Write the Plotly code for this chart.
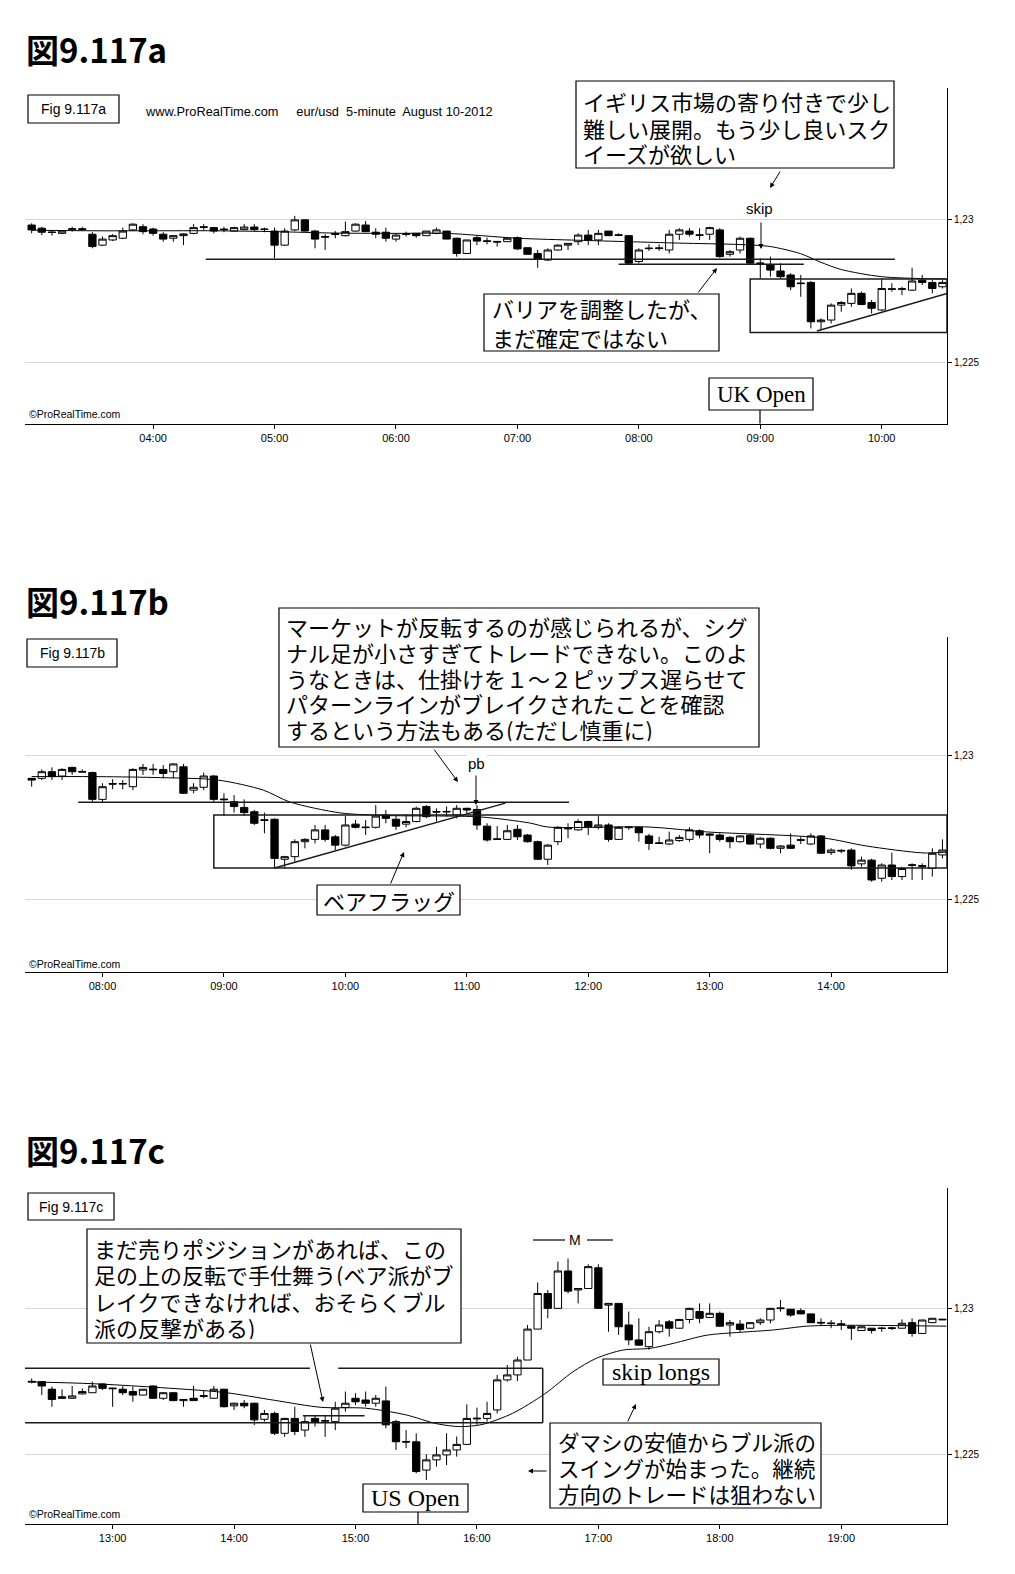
import plotly.graph_objects as go

W, H = 1015, 1574
def px(x): return x / W
def py(y): return 1 - y / H

# ---------------- data: panel a (eur/usd 5-minute, 03:00 - 10:30) ----------------
hours_a = ["04:00", "05:00", "06:00", "07:00", "08:00", "09:00", "10:00"]
hour_bar_a = [12, 24, 36, 48, 60, 72, 84]
open_a = [1.22980,1.22969,1.22956,1.22951,1.22965,1.22967,1.22948,1.22910,1.22928,1.22934,
1.22963,1.22974,1.22966,1.22948,1.22934,1.22943,1.22951,1.22974,1.22971,1.22966,
1.22959,1.22964,1.22973,1.22966,1.22959,1.22910,1.22963,1.22998,1.22959,1.22940,
1.22950,1.22943,1.22959,1.22980,1.22955,1.22955,1.22931,1.22947,1.22951,1.22943,
1.22951,1.22959,1.22934,1.22881,1.22936,1.22925,1.22923,1.22922,1.22936,1.22901,
1.22881,1.22858,1.22893,1.22910,1.22922,1.22945,1.22928,1.22959,1.22946,1.22943,
1.22853,1.22900,1.22898,1.22893,1.22948,1.22959,1.22946,1.22948,1.22963,1.22878,
1.22893,1.22934,1.22848,1.22841,1.22820,1.22806,1.22778,1.22780,1.22643,1.22649,
1.22701,1.22707,1.22742,1.22710,1.22684,1.22758,1.22756,1.22753,1.22788,1.22780,
1.22765]
high_a = [1.22986,1.22974,1.22963,1.22961,1.22974,1.22974,1.22955,1.22940,1.22948,1.22971,
1.22986,1.22983,1.22971,1.22955,1.22945,1.22951,1.22983,1.22983,1.22974,1.22974,
1.22974,1.22983,1.22983,1.22971,1.22971,1.22969,1.23012,1.23000,1.22963,1.22948,
1.22959,1.22992,1.22986,1.22994,1.22969,1.22971,1.22951,1.22957,1.22951,1.22959,
1.22971,1.22959,1.22936,1.22928,1.22943,1.22936,1.22924,1.22934,1.22940,1.22901,
1.22893,1.22899,1.22913,1.22916,1.22951,1.22963,1.22963,1.22959,1.22951,1.22945,
1.22899,1.22913,1.22913,1.22963,1.22969,1.22969,1.22969,1.22974,1.22969,1.22893,
1.22940,1.22936,1.22864,1.22870,1.22847,1.22812,1.22806,1.22785,1.22655,1.22707,
1.22715,1.22759,1.22748,1.22719,1.22794,1.22777,1.22765,1.22831,1.22806,1.22788,
1.22788]
low_a = [1.22951,1.22945,1.22943,1.22949,1.22957,1.22959,1.22899,1.22907,1.22924,1.22931,
1.22959,1.22948,1.22943,1.22922,1.22922,1.22910,1.22948,1.22963,1.22951,1.22955,
1.22957,1.22962,1.22959,1.22955,1.22864,1.22907,1.22959,1.22957,1.22899,1.22893,
1.22934,1.22940,1.22957,1.22955,1.22934,1.22922,1.22922,1.22940,1.22936,1.22943,
1.22948,1.22931,1.22870,1.22881,1.22910,1.22913,1.22905,1.22922,1.22893,1.22878,
1.22831,1.22855,1.22891,1.22893,1.22910,1.22910,1.22910,1.22943,1.22943,1.22841,
1.22847,1.22890,1.22890,1.22881,1.22928,1.22940,1.22928,1.22928,1.22866,1.22870,
1.22881,1.22841,1.22794,1.22800,1.22794,1.22753,1.22730,1.22620,1.22614,1.22637,
1.22678,1.22695,1.22701,1.22672,1.22680,1.22748,1.22736,1.22750,1.22771,1.22742,
1.22759]
close_a = [1.22963,1.22955,1.22954,1.22959,1.22967,1.22965,1.22905,1.22931,1.22943,1.22959,
1.22983,1.22957,1.22951,1.22931,1.22943,1.22949,1.22971,1.22972,1.22959,1.22964,
1.22971,1.22973,1.22964,1.22965,1.22910,1.22959,1.22998,1.22959,1.22931,1.22938,
1.22948,1.22957,1.22983,1.22957,1.22948,1.22934,1.22945,1.22949,1.22943,1.22959,
1.22963,1.22931,1.22881,1.22928,1.22924,1.22923,1.22921,1.22934,1.22897,1.22878,
1.22862,1.22893,1.22910,1.22916,1.22945,1.22928,1.22951,1.22943,1.22944,1.22847,
1.22893,1.22898,1.22900,1.22948,1.22963,1.22948,1.22944,1.22971,1.22870,1.22887,
1.22934,1.22847,1.22846,1.22823,1.22800,1.22765,1.22776,1.22643,1.22649,1.22701,
1.22710,1.22742,1.22703,1.22690,1.22759,1.22756,1.22758,1.22785,1.22780,1.22759,
1.22780]
ma_bar_a = [0, 6, 12, 18, 24, 30, 36, 41, 48, 54, 59, 64, 70, 73, 76, 78, 80, 84, 90.4]
ma_a = [1.22962, 1.22960, 1.22960, 1.22960, 1.22957, 1.22952, 1.22951, 1.22951, 1.22934, 1.22927,
        1.22922, 1.22917, 1.22912, 1.22905, 1.22880, 1.22850, 1.22825, 1.22800, 1.22792]

# ---------------- data: panel b (07:25 - 14:55) ----------------
hours_b = ["08:00", "09:00", "10:00", "11:00", "12:00", "13:00", "14:00"]
hour_bar_b = [7, 19, 31, 43, 55, 67, 79]
open_b = [1.22919,1.22919,1.22942,1.22927,1.22957,1.22943,1.22939,1.22846,1.22901,1.22899,
1.22890,1.22948,1.22951,1.22950,1.22942,1.22959,1.22878,1.22888,1.22927,1.22847,
1.22838,1.22818,1.22803,1.22775,1.22777,1.22638,1.22647,1.22699,1.22707,1.22740,
1.22716,1.22687,1.22760,1.22750,1.22749,1.22792,1.22777,1.22760,1.22769,1.22821,
1.22804,1.22802,1.22792,1.22815,1.22811,1.22753,1.22709,1.22707,1.22742,1.22722,
1.22699,1.22638,1.22699,1.22746,1.22740,1.22769,1.22749,1.22757,1.22707,1.22750,
1.22749,1.22719,1.22695,1.22691,1.22703,1.22707,1.22737,1.22726,1.22722,1.22714,
1.22699,1.22722,1.22691,1.22711,1.22676,1.22687,1.22706,1.22691,1.22719,1.22661,
1.22669,1.22670,1.22622,1.22635,1.22572,1.22618,1.22578,1.22619,1.22616,1.22606,
1.22653]
high_b = [1.22919,1.22950,1.22957,1.22954,1.22959,1.22950,1.22942,1.22902,1.22916,1.22913,
1.22954,1.22969,1.22969,1.22965,1.22971,1.22969,1.22902,1.22939,1.22931,1.22867,
1.22861,1.22846,1.22809,1.22800,1.22780,1.22650,1.22707,1.22711,1.22757,1.22757,
1.22722,1.22788,1.22774,1.22774,1.22826,1.22809,1.22792,1.22795,1.22821,1.22826,
1.22815,1.22821,1.22826,1.22817,1.22826,1.22763,1.22753,1.22757,1.22757,1.22726,
1.22703,1.22691,1.22753,1.22763,1.22777,1.22772,1.22788,1.22763,1.22753,1.22753,
1.22753,1.22726,1.22716,1.22734,1.22722,1.22749,1.22742,1.22728,1.22728,1.22719,
1.22722,1.22726,1.22714,1.22714,1.22687,1.22728,1.22716,1.22728,1.22722,1.22676,
1.22673,1.22676,1.22647,1.22640,1.22624,1.22661,1.22612,1.22624,1.22624,1.22676,
1.22707]
low_b = [1.22890,1.22913,1.22913,1.22913,1.22931,1.22939,1.22838,1.22838,1.22881,1.22881,
1.22878,1.22931,1.22931,1.22919,1.22919,1.22865,1.22867,1.22878,1.22838,1.22788,
1.22800,1.22788,1.22757,1.22728,1.22606,1.22606,1.22630,1.22676,1.22693,1.22699,
1.22670,1.22682,1.22745,1.22722,1.22745,1.22763,1.22740,1.22749,1.22766,1.22780,
1.22769,1.22786,1.22780,1.22797,1.22740,1.22699,1.22705,1.22705,1.22705,1.22696,
1.22635,1.22618,1.22687,1.22711,1.22737,1.22722,1.22742,1.22699,1.22705,1.22740,
1.22699,1.22670,1.22691,1.22687,1.22699,1.22699,1.22711,1.22659,1.22699,1.22676,
1.22696,1.22689,1.22676,1.22672,1.22659,1.22674,1.22691,1.22687,1.22656,1.22653,
1.22659,1.22601,1.22612,1.22560,1.22560,1.22566,1.22566,1.22566,1.22566,1.22578,
1.22641]
close_b = [1.22913,1.22942,1.22925,1.22950,1.22942,1.22941,1.22846,1.22890,1.22899,1.22901,
1.22950,1.22957,1.22949,1.22936,1.22969,1.22867,1.22888,1.22927,1.22846,1.22845,
1.22821,1.22800,1.22763,1.22773,1.22641,1.22647,1.22699,1.22707,1.22740,1.22707,
1.22687,1.22757,1.22749,1.22748,1.22788,1.22780,1.22753,1.22769,1.22815,1.22786,
1.22802,1.22804,1.22815,1.22809,1.22757,1.22705,1.22707,1.22737,1.22716,1.22699,
1.22638,1.22687,1.22749,1.22744,1.22769,1.22751,1.22757,1.22707,1.22749,1.22748,
1.22730,1.22693,1.22693,1.22705,1.22714,1.22740,1.22722,1.22722,1.22707,1.22699,
1.22719,1.22691,1.22711,1.22676,1.22684,1.22676,1.22704,1.22719,1.22659,1.22670,
1.22667,1.22615,1.22635,1.22566,1.22618,1.22578,1.22606,1.22617,1.22614,1.22659,
1.22670]
ma_bar_b = [0, 6, 12, 18.4, 22.9, 25.5, 30.5, 35, 44.3, 49.2, 51, 61, 66.7, 78.2, 82.5, 88.1, 90.4]
ma_b = [1.22925, 1.22925, 1.22922, 1.22913, 1.22878, 1.22837, 1.22799, 1.22790, 1.22785, 1.22764,
        1.22750, 1.22750, 1.22733, 1.22712, 1.22684, 1.22660, 1.22663]

# ---------------- data: panel c (12:20 - 19:50) ----------------
hours_c = ["13:00", "14:00", "15:00", "16:00", "17:00", "18:00", "19:00"]
hour_bar_c = [8, 20, 32, 44, 56, 68, 80]
open_c = [1.22750,1.22749,1.22723,1.22697,1.22692,1.22707,1.22711,1.22741,1.22727,1.22723,
1.22715,1.22703,1.22734,1.22692,1.22711,1.22684,1.22692,1.22701,1.22692,1.22723,
1.22666,1.22675,1.22675,1.22620,1.22640,1.22572,1.22623,1.22583,1.22623,1.22616,
1.22612,1.22660,1.22692,1.22686,1.22675,1.22683,1.22612,1.22544,1.22543,1.22446,
1.22481,1.22498,1.22515,1.22534,1.22624,1.22623,1.22652,1.22755,1.22772,1.22823,
1.22929,1.23051,1.23000,1.23128,1.23063,1.23068,1.23139,1.23011,1.23017,1.22943,
1.22892,1.22869,1.22920,1.22954,1.22932,1.22962,1.22989,1.22969,1.22983,1.22943,
1.22946,1.22932,1.22951,1.22960,1.22999,1.22997,1.22992,1.22981,1.22952,1.22950,
1.22947,1.22939,1.22924,1.22932,1.22933,1.22931,1.22932,1.22951,1.22914,1.22951,
1.22963]
high_c = [1.22760,1.22750,1.22732,1.22723,1.22734,1.22726,1.22749,1.22743,1.22728,1.22734,
1.22732,1.22724,1.22736,1.22713,1.22713,1.22689,1.22734,1.22720,1.22734,1.22725,
1.22677,1.22686,1.22677,1.22652,1.22646,1.22625,1.22663,1.22635,1.22635,1.22635,
1.22680,1.22715,1.22709,1.22715,1.22703,1.22732,1.22618,1.22583,1.22572,1.22500,
1.22526,1.22572,1.22561,1.22671,1.22660,1.22680,1.22772,1.22806,1.22834,1.22943,
1.23089,1.23063,1.23160,1.23171,1.23069,1.23151,1.23151,1.23018,1.23018,1.22989,
1.22966,1.22937,1.22960,1.22960,1.22964,1.23002,1.23017,1.23017,1.22989,1.22960,
1.22960,1.22953,1.22966,1.23002,1.23029,1.22998,1.23000,1.22982,1.22966,1.22960,
1.22960,1.22940,1.22938,1.22933,1.22937,1.22937,1.22962,1.22966,1.22961,1.22967,
1.22964]
low_c = [1.22743,1.22703,1.22663,1.22692,1.22691,1.22705,1.22710,1.22720,1.22663,1.22703,
1.22680,1.22702,1.22690,1.22686,1.22682,1.22663,1.22683,1.22692,1.22690,1.22661,
1.22652,1.22658,1.22600,1.22612,1.22566,1.22560,1.22566,1.22560,1.22595,1.22560,
1.22583,1.22646,1.22669,1.22663,1.22663,1.22589,1.22515,1.22521,1.22435,1.22412,
1.22458,1.22463,1.22492,1.22532,1.22601,1.22612,1.22640,1.22749,1.22751,1.22823,
1.22929,1.22966,1.22998,1.23051,1.23017,1.23067,1.22998,1.22920,1.22909,1.22874,
1.22872,1.22858,1.22914,1.22903,1.22930,1.22949,1.22949,1.22968,1.22937,1.22903,
1.22920,1.22930,1.22943,1.22949,1.22989,1.22971,1.22980,1.22950,1.22943,1.22932,
1.22926,1.22892,1.22923,1.22914,1.22920,1.22926,1.22931,1.22903,1.22913,1.22950,
1.22960]
close_c = [1.22748,1.22734,1.22688,1.22692,1.22700,1.22715,1.22734,1.22726,1.22725,1.22711,
1.22703,1.22723,1.22692,1.22711,1.22684,1.22688,1.22684,1.22699,1.22723,1.22663,
1.22675,1.22666,1.22618,1.22640,1.22572,1.22623,1.22578,1.22612,1.22612,1.22614,
1.22658,1.22675,1.22680,1.22675,1.22692,1.22601,1.22543,1.22542,1.22441,1.22481,
1.22498,1.22515,1.22534,1.22623,1.22622,1.22640,1.22755,1.22772,1.22823,1.22929,
1.23051,1.23000,1.23128,1.23059,1.23068,1.23143,1.23000,1.23017,1.22937,1.22892,
1.22874,1.22920,1.22943,1.22932,1.22962,1.23000,1.22966,1.22983,1.22939,1.22951,
1.22928,1.22951,1.22960,1.23000,1.23001,1.22977,1.22981,1.22951,1.22950,1.22948,
1.22945,1.22932,1.22937,1.22924,1.22931,1.22933,1.22949,1.22914,1.22960,1.22966,
1.22961]
ma_bar_c = [0, 6, 12, 19, 24, 28.6, 33, 37, 40, 42.3, 44.5, 47.5, 50.7, 53.5, 55.8, 58.4, 61.1,
            63.4, 66.7, 70, 73.3, 76.6, 80, 90.4]
ma_c = [1.22748, 1.22742, 1.22730, 1.22712, 1.22685, 1.22661, 1.22658, 1.22635, 1.22605, 1.22595,
        1.22602, 1.22640, 1.22707, 1.22783, 1.22829, 1.22857, 1.22863, 1.22880, 1.22908, 1.22918,
        1.22926, 1.22939, 1.22942, 1.22939]

# drawn levels: (bar_from, bar_to, price_from, price_to)
lines_a = [(17.2, 85.3, 1.22861, 1.22861), (58, 76.3, 1.22843, 1.22843),
           (77.6, 90.45, 1.22611, 1.22742)]
rect_a = (71.0, 90.45, 1.22606, 1.22792)
lines_b = [(4.6, 53.1, 1.22836, 1.22836), (24.0, 46.8, 1.22608, 1.22833)]
rect_b = (18.0, 90.45, 1.22608, 1.22792)
lines_c = [(-0.66, 27.5, 1.22795, 1.22795), (30.3, 50.5, 1.22795, 1.22795),
           (50.5, 50.5, 1.22795, 1.22608), (-0.66, 50.5, 1.22608, 1.22608),
           (26.8, 32.9, 1.22632, 1.22632)]

# ---------------- figure ----------------
NARROW = "Liberation Sans Narrow, Arial Narrow, Liberation Sans, sans-serif"
SANS = "Liberation Sans, Arial, sans-serif"
SERIF = "Liberation Serif, Times New Roman, serif"
JP = "Noto Sans CJK JP"

X_RANGE = [-0.66, 90.45]
X_DOMAIN = [px(25), px(947)]

panels = [
    dict(o=open_a, h=high_a, l=low_a, c=close_a, mx=ma_bar_a, my=ma_a, top=88.3, bottom=423.6,
         yr=[1.222882, 1.234564], tv=hour_bar_a, tt=hours_a, lines=lines_a, rect=rect_a),
    dict(o=open_b, h=high_b, l=low_b, c=close_b, mx=ma_bar_b, my=ma_b, top=636.5, bottom=971.7,
         yr=[1.222476, 1.234115], tv=hour_bar_b, tt=hours_b, lines=lines_b, rect=rect_b),
    dict(o=open_c, h=high_c, l=low_c, c=close_c, mx=ma_bar_c, my=ma_c, top=1187.5, bottom=1523.8,
         yr=[1.22262, 1.23414], tv=hour_bar_c, tt=hours_c, lines=lines_c, rect=None),
]

fig = go.Figure()
shapes = []
LINE_COL = "#1a1a1a"
for k, p in enumerate(panels):
    n = "" if k == 0 else str(k + 1)
    xa, ya = "x" + n, "y" + n
    fig.add_trace(go.Candlestick(
        x=list(range(len(p["o"]))), open=p["o"], high=p["h"], low=p["l"], close=p["c"],
        xaxis=xa, yaxis=ya,
        increasing=dict(line=dict(color="black", width=1), fillcolor="white"),
        decreasing=dict(line=dict(color="black", width=1), fillcolor="black"),
        whiskerwidth=0, hoverinfo="skip", showlegend=False))
    fig.add_trace(go.Scatter(
        x=p["mx"], y=p["my"], mode="lines", xaxis=xa, yaxis=ya,
        line=dict(color="black", width=1, shape="spline", smoothing=0.8),
        hoverinfo="skip", showlegend=False))
    fig.update_layout(**{
        "xaxis" + n: dict(domain=X_DOMAIN, range=X_RANGE, anchor=ya, showline=True,
                          linecolor="black", linewidth=1, ticks="outside", ticklen=4,
                          tickcolor="black", tickvals=p["tv"], ticktext=p["tt"],
                          tickfont=dict(family=NARROW, size=11, color="black"),
                          showgrid=False, zeroline=False, rangeslider=dict(visible=False),
                          fixedrange=True),
        "yaxis" + n: dict(domain=[py(p["bottom"]), py(p["top"])], range=p["yr"], anchor=xa,
                          side="right", showline=True, linecolor="black", linewidth=1,
                          ticks="outside", ticklen=4, tickcolor="black",
                          tickvals=[1.225, 1.23], ticktext=["1,225", "1,23"],
                          tickfont=dict(family=NARROW, size=10, color="black"),
                          showgrid=True, gridcolor="#d6d6d6", gridwidth=1, zeroline=False,
                          fixedrange=True),
    })
    for (x0, x1, y0, y1) in p["lines"]:
        shapes.append(dict(type="line", xref=xa, yref=ya, x0=x0, x1=x1, y0=y0, y1=y1,
                           line=dict(color=LINE_COL, width=1.5)))
    if p["rect"]:
        x0, x1, y0, y1 = p["rect"]
        shapes.append(dict(type="rect", xref=xa, yref=ya, x0=x0, x1=x1, y0=y0, y1=y1,
                           line=dict(color=LINE_COL, width=1.5)))

# text boxes in page pixels (x0, y0, x1, y1)
boxes = [(28, 95, 119, 123), (576, 81, 894, 168), (484, 294, 719, 351), (709, 378, 813, 410),
         (27, 639, 117, 667), (279, 608, 759, 747), (317, 885, 460, 915),
         (28, 1193, 114, 1220), (87, 1229, 461, 1343), (603, 1359, 719, 1385),
         (550, 1423, 821, 1508), (363, 1484, 468, 1512)]
for (x0, y0, x1, y1) in boxes:
    shapes.append(dict(type="rect", xref="paper", yref="paper", x0=px(x0), x1=px(x1),
                       y0=py(y1), y1=py(y0), line=dict(color="black", width=1.2),
                       fillcolor="white", layer="above"))
plain_lines = [(760, 410, 760, 423.6), (418, 1512, 418, 1524),
               (533, 1240, 565, 1240), (587, 1240, 613, 1240)]
for (x0, y0, x1, y1) in plain_lines:
    shapes.append(dict(type="line", xref="paper", yref="paper", x0=px(x0), x1=px(x1),
                       y0=py(y0), y1=py(y1), line=dict(color="black", width=1.2), layer="above"))

ann = []
def text(x, y, s, family, size, anchor="left", bg=None, weight=None, height=None):
    f = dict(family=family, size=size, color="black")
    if weight:
        f["weight"] = weight
    d = dict(x=px(x), y=py(y), xref="paper", yref="paper", text=s, showarrow=False,
             xanchor=anchor, yanchor="middle", font=f)
    if bg:
        d["bgcolor"] = bg
    if height:
        d["height"] = height
    ann.append(d)

def jp_lines(x, ys, lines, size=22):
    for y, s in zip(ys, lines):
        text(x, y, s, JP, size, height=25)

def arrow(tx, ty, hx, hy):
    ann.append(dict(x=px(hx), y=py(hy), xref="paper", yref="paper", ax=tx - hx, ay=ty - hy,
                    axref="pixel", ayref="pixel", text="", showarrow=True, arrowhead=2,
                    arrowsize=1, arrowwidth=1, arrowcolor="black"))

# panel a
text(24, 49, "図9.117a", JP, 33, weight="bold")
text(73.5, 109, "Fig 9.117a", NARROW, 14, "center")
text(143, 111, "www.ProRealTime.com     eur/usd  5-minute  August 10-2012", NARROW, 12.8)
jp_lines(581, [100, 127, 153], ["イギリス市場の寄り付きで少し", "難しい展開。もう少し良いスク", "イーズが欲しい"])
arrow(781, 170, 770, 188)
text(759, 209, "skip", SANS, 15, "center")
arrow(761, 221, 761, 249)
jp_lines(490, [307, 336], ["バリアを調整したが、", "まだ確定ではない"])
arrow(697, 294, 717, 268)
text(761, 394, "UK Open", SERIF, 23, "center")
text(27, 414, "©ProRealTime.com", NARROW, 10.5)

# panel b
text(24, 600.5, "図9.117b", JP, 33, weight="bold")
text(72, 653, "Fig 9.117b", NARROW, 14, "center")
jp_lines(284, [625, 651, 677, 703, 728],
         ["マーケットが反転するのが感じられるが、シグ",
          "ナル足が小さすぎてトレードできない。このよ",
          "うなときは、仕掛けを１～２ピップス遅らせて",
          "パターンラインがブレイクされたことを確認",
          "するという方法もある(ただし慎重に)"])
arrow(433, 748, 458, 782)
text(476.5, 763, "pb", SANS, 15, "center", bg="white")
arrow(476, 774, 476, 805)
text(388.5, 900, "ベアフラッグ", JP, 22, "center")
arrow(390, 885, 404, 852)
text(27, 964, "©ProRealTime.com", NARROW, 10.5)

# panel c
text(24, 1149.5, "図9.117c", JP, 33, weight="bold")
text(71, 1206.5, "Fig 9.117c", NARROW, 14, "center")
jp_lines(92, [1247, 1273, 1300, 1326],
         ["まだ売りポジションがあれば、この",
          "足の上の反転で手仕舞う(ベア派がブ",
          "レイクできなければ、おそらくブル",
          "派の反撃がある)"])
arrow(310, 1343, 323, 1402)
text(575, 1240, "M", SANS, 14, "center")
text(661, 1372, "skip longs", SERIF, 24, "center")
arrow(627, 1423, 636, 1404)
jp_lines(556, [1441, 1467, 1493],
         ["ダマシの安値からブル派の", "スイングが始まった。継続", "方向のトレードは狙わない"],
         size=21.5)
arrow(548, 1471, 528, 1471)
text(415.5, 1498, "US Open", SERIF, 24, "center")
text(27, 1514, "©ProRealTime.com", NARROW, 10.5)

fig.update_layout(width=W, height=H, autosize=False, margin=dict(l=0, r=0, t=0, b=0),
                  paper_bgcolor="white", plot_bgcolor="white", showlegend=False,
                  hovermode=False, shapes=shapes, annotations=ann,
                  boxgap=0.15, boxgroupgap=0.15)

fig.write_html("out.html")
